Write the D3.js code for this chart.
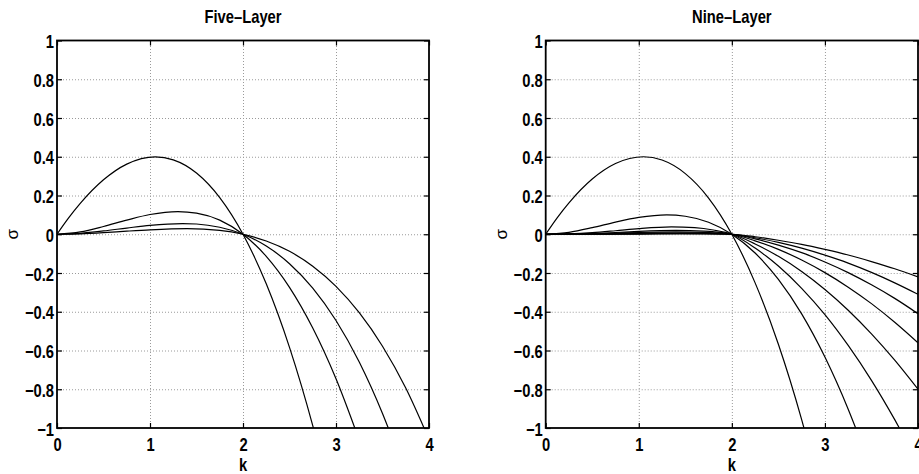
<!DOCTYPE html>
<html><head><meta charset="utf-8">
<script src="https://cdn.jsdelivr.net/npm/d3@7"></script>
<style>body{margin:0;background:#fff}svg{display:block}</style>
</head><body>
<svg id="chart" width="919" height="474"></svg>
<script>
// ---- data ----
const kTicks = [0, 1, 2, 3, 4];
const kTickLabels = ["0", "1", "2", "3", "4"];
const sigmaTicks = [-1, -0.8, -0.6, -0.4, -0.2, 0, 0.2, 0.4, 0.6, 0.8, 1];
const sigmaTickLabels = ["\u22121", "\u22120.8", "\u22120.6", "\u22120.4", "\u22120.2", "0", "0.2", "0.4", "0.6", "0.8", "1"];
const panelTitles = ["Five\u2013Layer", "Nine\u2013Layer"];
const xLabel = "k";
const yLabel = "\u03c3";

// Five-layer curves [k, sigma]
const five1 = [[0,0],[0.125,0.084],[0.25,0.159],[0.5,0.281],[0.75,0.362],[1.057,0.3995],[1.25,0.384],[1.5,0.316],[1.75,0.189],[2,0],[2.25,-0.256],[2.5,-0.584],[2.75,-0.988],[2.8,-1.078]];
const five2 = [[0,0],[0.25,0.012],[0.5,0.040],[0.75,0.073],[1,0.102],[1.3,0.117],[1.5,0.109],[1.75,0.073],[2,0],[2.25,-0.114],[2.5,-0.274],[2.75,-0.484],[3,-0.746],[3.25,-1.063]];
const five3 = [[0,0],[0.25,0.005],[0.5,0.017],[0.75,0.032],[1,0.046],[1.35,0.055],[1.5,0.053],[1.75,0.036],[2,0],[2.25,-0.061],[2.5,-0.152],[2.75,-0.278],[3,-0.445],[3.25,-0.659],[3.5,-0.925],[3.6,-1.047]];
const five4 = [[0,0],[0.25,0.002],[0.5,0.008],[0.75,0.016],[1,0.023],[1.4,0.029],[1.75,0.020],[2,0],[2.25,-0.035],[2.5,-0.088],[2.75,-0.165],[3,-0.269],[3.25,-0.405],[3.5,-0.578],[3.75,-0.794],[4,-1.059]];

// Nine-layer curves [k, sigma]
const nine1 = [[0,0],[0.125,0.086],[0.25,0.162],[0.5,0.285],[0.75,0.365],[1.05,0.400],[1.25,0.383],[1.5,0.313],[1.75,0.187],[2,0],[2.25,-0.251],[2.5,-0.568],[2.75,-0.957],[2.8,-1.044]];
const nine2 = [[0,0],[0.25,0.010],[0.5,0.034],[0.75,0.063],[1,0.087],[1.3,0.100],[1.5,0.093],[1.75,0.062],[2,0],[2.25,-0.097],[2.5,-0.233],[2.75,-0.411],[3,-0.634],[3.25,-0.903],[3.4,-1.087]];
const nine3 = [[0,0],[0.25,0.002],[0.5,0.008],[0.75,0.018],[1,0.029],[1.35,0.038],[1.6,0.034],[1.8,0.022],[2,0],[2.25,-0.071],[2.5,-0.164],[2.75,-0.279],[3,-0.415],[3.25,-0.574],[3.5,-0.754],[3.75,-0.957],[3.85,-1.044]];
const nine4 = [[0,0],[0.25,0.001],[0.5,0.004],[0.75,0.009],[1,0.015],[1.4,0.020],[1.7,0.016],[1.9,0.008],[2,0],[2.25,-0.050],[2.5,-0.114],[2.75,-0.192],[3,-0.285],[3.25,-0.392],[3.5,-0.514],[3.75,-0.650],[4,-0.800]];
const nine5 = [[0,0],[0.5,0.002],[0.75,0.005],[1,0.009],[1.4,0.012],[1.7,0.010],[1.9,0.005],[2,0],[2.25,-0.034],[2.5,-0.078],[2.75,-0.133],[3,-0.198],[3.25,-0.273],[3.5,-0.358],[3.75,-0.454],[4,-0.560]];
const nine6 = [[0,0],[0.5,0.001],[0.75,0.003],[1,0.005],[1.45,0.007],[1.7,0.006],[1.9,0.003],[2,0],[2.25,-0.024],[2.5,-0.056],[2.75,-0.095],[3,-0.143],[3.25,-0.198],[3.5,-0.261],[3.75,-0.331],[4,-0.410]];
const nine7 = [[0,0],[0.75,0.001],[1,0.002],[1.45,0.004],[1.7,0.0035],[1.9,0.002],[2,0],[2.25,-0.018],[2.5,-0.042],[2.75,-0.072],[3,-0.108],[3.25,-0.149],[3.5,-0.197],[3.75,-0.251],[4,-0.310]];
const nine8 = [[0,0],[1,0.001],[1.45,0.002],[1.7,0.002],[1.9,0.001],[2,0],[2.25,-0.013],[2.5,-0.031],[2.75,-0.052],[3,-0.078],[3.25,-0.107],[3.5,-0.141],[3.75,-0.178],[4,-0.220]];

const fiveLayer = [five1, five2, five3, five4];
const nineLayer = [nine1, nine2, nine3, nine4, nine5, nine6, nine7, nine8];

// ---- layout ----
const svg = d3.select("#chart");
const FONT = "'Liberation Sans', Arial, Helvetica, sans-serif";
const SX = 0.82; // narrow face
const plotTop = 40.5, plotBottom = 428;
const panels = [
  {x0: 57, x1: 429, curves: fiveLayer, title: panelTitles[0], sigmaX: 17.5},
  {x0: 545.7, x1: 918, curves: nineLayer, title: panelTitles[1], sigmaX: 506.5}
];

function narrowText(g, x, y, s, anchor, size, weight) {
  return g.append("text")
    .attr("transform", `translate(${x},${y}) scale(${SX},1)`)
    .attr("text-anchor", anchor)
    .attr("font-family", FONT)
    .attr("font-size", size)
    .attr("font-weight", weight)
    .attr("fill", "#000")
    .text(s);
}

panels.forEach((p, pi) => {
  const x = d3.scaleLinear().domain([0, 4]).range([p.x0, p.x1]);
  const y = d3.scaleLinear().domain([-1, 1]).range([plotBottom, plotTop]);
  const g = svg.append("g");
  const W = p.x1 - p.x0, H = plotBottom - plotTop;

  // grid
  const gx = g.append("g").attr("transform", `translate(0,${plotBottom})`)
    .call(d3.axisBottom(x).tickValues(kTicks.slice(1, -1)).tickSize(-H).tickFormat(""));
  const gy = g.append("g").attr("transform", `translate(${p.x0},0)`)
    .call(d3.axisLeft(y).tickValues(sigmaTicks.slice(1, -1)).tickSize(-W).tickFormat(""));
  [gx, gy].forEach(a => {
    a.select(".domain").remove();
    a.selectAll("line").attr("stroke", "#9a9a9a").attr("stroke-width", 1).attr("stroke-dasharray", "1,2");
  });

  // curves
  const clipId = "clip" + pi;
  svg.append("defs").append("clipPath").attr("id", clipId)
    .append("rect").attr("x", p.x0).attr("y", plotTop).attr("width", W).attr("height", H);
  const line = d3.line().x(d => x(d[0])).y(d => y(d[1])).curve(d3.curveMonotoneX);
  g.append("g").attr("clip-path", `url(#${clipId})`)
    .selectAll("path").data(p.curves).join("path")
    .attr("d", line).attr("fill", "none").attr("stroke", "#000").attr("stroke-width", 1.2);

  // axes with inward ticks
  const tick = 5;
  const ax = g.append("g").attr("transform", `translate(0,${plotBottom})`)
    .call(d3.axisBottom(x).tickValues(kTicks).tickFormat((d, i) => kTickLabels[i]).tickSizeInner(-tick).tickSizeOuter(0).tickPadding(10));
  const axT = g.append("g").attr("transform", `translate(0,${plotTop})`)
    .call(d3.axisTop(x).tickValues(kTicks).tickFormat("").tickSizeInner(-tick).tickSizeOuter(0));
  const ay = g.append("g").attr("transform", `translate(${p.x0},0)`)
    .call(d3.axisLeft(y).tickValues(sigmaTicks).tickFormat((d, i) => sigmaTickLabels[i]).tickSizeInner(-tick).tickSizeOuter(0).tickPadding(3));
  const ayR = g.append("g").attr("transform", `translate(${p.x1},0)`)
    .call(d3.axisRight(y).tickValues(sigmaTicks).tickFormat("").tickSizeInner(-tick).tickSizeOuter(0));
  [ax, axT, ay, ayR].forEach(a => {
    a.select(".domain").remove();
    a.selectAll("line").attr("stroke", "#000").attr("stroke-width", 1.2);
    a.attr("font-family", FONT).attr("font-size", 18).attr("font-weight", "bold");
  });
  ax.selectAll("text").attr("fill", "#000").attr("transform", `scale(${SX},1)`);
  ay.selectAll("text").attr("fill", "#000").attr("x", -3 / SX).attr("dy", "0.4em").attr("transform", `scale(${SX},1)`);

  // frame
  g.append("rect").attr("x", p.x0).attr("y", plotTop).attr("width", W).attr("height", H)
    .attr("fill", "none").attr("stroke", "#000").attr("stroke-width", 1.8);

  // titles & labels
  narrowText(g, (p.x0 + p.x1) / 2, 23, p.title, "middle", 18, "bold");
  narrowText(g, (p.x0 + p.x1) / 2, 471, xLabel, "middle", 18, "bold");
  g.append("text")
    .attr("transform", `translate(${p.sigmaX},${(plotTop + plotBottom) / 2}) rotate(-90)`)
    .attr("text-anchor", "middle")
    .attr("font-family", FONT).attr("font-size", 17)
    .attr("fill", "#000").text(yLabel);
});
</script>
</body></html>
